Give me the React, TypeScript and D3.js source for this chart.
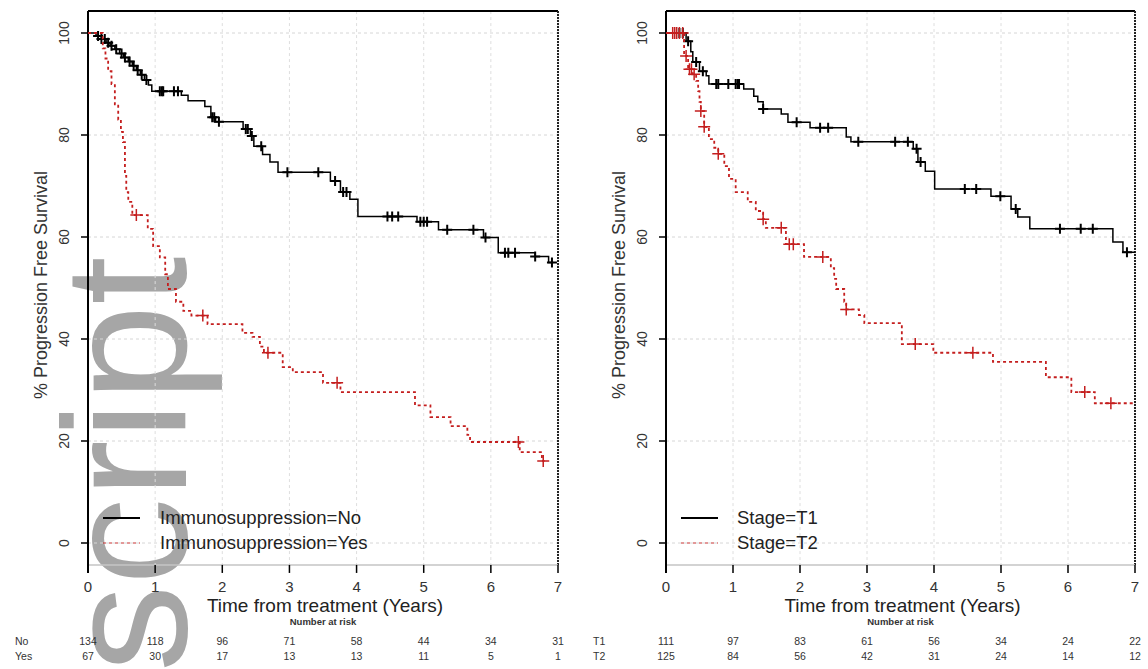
import React from "react";
import * as d3 from "d3";

// ---------- data ----------
const yearTicks = [0, 1, 2, 3, 4, 5, 6, 7];
const survTicks = [0, 20, 40, 60, 80, 100];

// Panel A: Immunosuppression = No (step times / survival after step, %)
const noTimes = [0.12, 0.2, 0.27, 0.33, 0.4, 0.47, 0.53, 0.6, 0.66, 0.72, 0.78, 0.84, 0.9, 0.95, 1.39, 1.49, 1.74, 1.83, 1.9, 2.31, 2.42, 2.47, 2.6, 2.71, 2.83, 3.61, 3.76, 3.9, 4.02, 4.9, 5.22, 5.89, 6.11, 6.66, 6.86];
const noSurv = [99.4, 98.8, 98.1, 97.5, 96.8, 96.0, 95.2, 94.4, 93.6, 92.7, 91.8, 90.8, 89.8, 88.6, 87.8, 86.7, 85.6, 83.5, 82.6, 81.2, 79.8, 77.8, 76.2, 74.7, 72.7, 71.0, 68.8, 67.4, 64.0, 63.0, 61.4, 59.9, 56.9, 56.2, 55.0];
const noCensor = [0.15, 0.2, 0.25, 0.3, 0.35, 0.42, 0.5, 0.55, 0.62, 0.68, 0.74, 0.8, 0.87, 1.07, 1.1, 1.12, 1.28, 1.34, 1.85, 1.88, 1.95, 2.35, 2.38, 2.44, 2.58, 2.97, 3.43, 3.68, 3.8, 3.85, 4.46, 4.53, 4.62, 4.95, 5.0, 5.05, 5.35, 5.74, 5.92, 6.21, 6.26, 6.36, 6.66, 6.91];
const noEnd = 6.93;

// Panel A: Immunosuppression = Yes
const yesTimes = [0.22, 0.26, 0.3, 0.35, 0.4, 0.45, 0.49, 0.52, 0.55, 0.57, 0.6, 0.66, 0.89, 0.97, 1.07, 1.15, 1.19, 1.31, 1.42, 1.54, 1.78, 2.3, 2.45, 2.56, 2.62, 2.9, 3.05, 3.5, 3.76, 4.87, 5.1, 5.4, 5.65, 5.69, 6.43, 6.76];
const yesSurv = [97, 95, 92.5, 90, 86, 83, 80.6, 78.6, 72, 68.8, 66.9, 64.3, 61.6, 58.2, 56, 52.7, 49.8, 47.3, 45.5, 44.6, 42.9, 41.2, 40.4, 38.5, 37.3, 34.5, 33.5, 31.4, 29.6, 27, 24.7, 22.9, 21.2, 19.8, 17.8, 16.1];
const yesCensor = [0.72, 1.71, 2.68, 3.71, 6.41, 6.78];
const yesEnd = 6.8;

// Panel B: Stage = T1
const t1Times = [0.3, 0.37, 0.4, 0.5, 0.6, 0.64, 1.16, 1.31, 1.37, 1.45, 1.72, 1.82, 2.15, 2.69, 2.76, 3.69, 3.76, 3.87, 4.01, 4.85, 5.15, 5.25, 5.43, 6.67, 6.82];
const t1Surv = [98.4, 96.3, 94.3, 92.5, 91.6, 90.0, 89.0, 87.6, 86.5, 85.1, 84.1, 82.5, 81.4, 79.6, 78.7, 77.3, 74.7, 72.9, 69.4, 68.0, 65.5, 63.9, 61.6, 59.0, 57.0];
const t1Censor = [0.2, 0.25, 0.33, 0.45, 0.55, 0.75, 0.78, 0.93, 1.04, 1.07, 1.09, 1.45, 1.95, 2.3, 2.42, 2.87, 3.42, 3.61, 3.74, 3.8, 4.46, 4.63, 4.99, 5.22, 5.88, 6.19, 6.37, 6.88];
const t1End = 7.0;

// Panel B: Stage = T2
const t2Times = [0.27, 0.33, 0.4, 0.45, 0.48, 0.5, 0.52, 0.57, 0.64, 0.72, 0.78, 0.87, 0.94, 1.04, 1.22, 1.34, 1.45, 1.49, 1.79, 2.06, 2.46, 2.51, 2.54, 2.66, 2.69, 2.88, 2.96, 3.52, 3.99, 4.88, 5.67, 6.05, 6.4];
const t2Surv = [95.5, 92.9, 91.9, 90.6, 88.6, 86.5, 84.7, 81.6, 79.2, 77.5, 76.3, 73.9, 71.4, 68.8, 66.9, 65.1, 63.5, 61.8, 58.6, 56.1, 53.9, 51.8, 49.8, 47.3, 45.8, 44.7, 43.1, 39.0, 37.3, 35.5, 32.5, 29.6, 27.4];
const t2Censor = [0.1, 0.13, 0.16, 0.2, 0.25, 0.3, 0.35, 0.38, 0.42, 0.52, 0.57, 0.78, 1.45, 1.72, 1.84, 1.9, 2.34, 2.69, 3.72, 4.58, 6.25, 6.64];
const t2End = 7.0;

// Numbers at risk
const riskNo = [134, 118, 96, 71, 58, 44, 34, 31];
const riskYes = [67, 30, 17, 13, 13, 11, 5, 1];
const riskT1 = [111, 97, 83, 61, 56, 34, 24, 22];
const riskT2 = [125, 84, 56, 42, 31, 24, 14, 12];

const FONT = "'Liberation Sans', Arial, Helvetica, sans-serif";
const RED = "#c41e1e";

type Curve = { times: number[]; surv: number[]; censor: number[]; end: number; color: string; dashed: boolean };

function survAt(times: number[], surv: number[], t: number) {
  let s = 100;
  for (let i = 0; i < times.length; i++) if (times[i] <= t) s = surv[i];
  return s;
}

function Panel({ x0, x1, curves, legend, rows, rowLabels, labelX }: any) {
  const x = d3.scaleLinear().domain([0, 7]).range([x0, x1]);
  const y = d3.scaleLinear().domain([0, 100]).range([543, 33]);
  const top = y(104.3);
  const bottom = y(-4.3);
  const line = d3.line<[number, number]>().x(d => x(d[0])).y(d => y(d[1])).curve(d3.curveStepAfter);
  const mid = (x0 + x1) / 2;
  return (
    <g>
      {/* grid */}
      {yearTicks.map(t => (
        <line key={"gv" + t} x1={x(t)} x2={x(t)} y1={top} y2={bottom} stroke="#dedede" strokeWidth={1} strokeDasharray="3,3" />
      ))}
      {survTicks.map(s => (
        <line key={"gh" + s} x1={x0} x2={x1} y1={y(s)} y2={y(s)} stroke="#d6d6d6" strokeWidth={1} strokeDasharray="3,3" />
      ))}
      {/* box */}
      <line x1={x0} x2={x1} y1={top} y2={top} stroke="#000" strokeWidth={2} />
      <line x1={x1} x2={x1} y1={top} y2={bottom} stroke="#222" strokeWidth={2} strokeDasharray="2,1" />
      <line x1={x0} x2={x1} y1={bottom} y2={bottom} stroke="#c4c4c4" strokeWidth={1.5} />
      <line x1={x0} x2={x0} y1={top} y2={bottom + 8} stroke="#000" strokeWidth={2} />
      {/* y ticks */}
      {survTicks.map(s => (
        <g key={"yt" + s}>
          <line x1={x0 - 7} x2={x0} y1={y(s)} y2={y(s)} stroke="#000" strokeWidth={1.5} />
          <text transform={`translate(${x0 - 19},${y(s)}) rotate(-90)`} textAnchor="middle" fontSize={14} fontFamily={FONT} fill="#333">{s}</text>
        </g>
      ))}
      {/* x ticks */}
      {yearTicks.map(t => (
        <g key={"xt" + t}>
          <line x1={x(t)} x2={x(t)} y1={bottom} y2={bottom + 8} stroke="#000" strokeWidth={1.5} />
          <text x={x(t)} y={bottom + 27} textAnchor="middle" fontSize={15} fontFamily={FONT} fill="#333">{t}</text>
        </g>
      ))}
      <text transform={`translate(${x0 - 41},285) rotate(-90)`} textAnchor="middle" fontSize={18} fontFamily={FONT} fill="#333">% Progression Free Survival</text>
      <text x={mid + 2} y={612} textAnchor="middle" fontSize={19} fontFamily={FONT} fill="#222">Time from treatment (Years)</text>
      {/* curves */}
      {curves.map((c: Curve, i: number) => {
        const pts: [number, number][] = [[0, 100], ...c.times.map((t, k) => [t, c.surv[k]] as [number, number]), [c.end, c.surv[c.surv.length - 1]]];
        return (
          <g key={"c" + i}>
            <path d={line(pts) || ""} fill="none" stroke={c.color} strokeWidth={c.dashed ? 1.8 : 1.5} strokeDasharray={c.dashed ? "3,3" : undefined} />
            {c.censor.map((t, k) => {
              const cx = x(t);
              const cy = y(survAt(c.times, c.surv, t));
              const h = c.dashed ? 6 : 5;
              return (
                <path key={k} d={`M${cx - h},${cy}H${cx + h}M${cx},${cy - h}V${cy + h}`} stroke={c.color} strokeWidth={c.dashed ? 1.5 : 2} fill="none" />
              );
            })}
          </g>
        );
      })}
      {/* legend */}
      {legend.map((l: string, i: number) => (
        <g key={"lg" + i}>
          <line x1={x0 + 15} x2={x0 + 52} y1={518 + i * 25} y2={518 + i * 25} stroke={i === 0 ? "#000" : RED} strokeWidth={i === 0 ? 2 : 1.5} strokeDasharray={i === 0 ? undefined : "3,3"} opacity={i === 0 ? 1 : 0.6} />
          <text x={labelX} y={524 + i * 25} fontSize={18.5} fontFamily={FONT} fill="#222">{l}</text>
        </g>
      ))}
      {/* number at risk */}
      <text x={mid} y={625} textAnchor="middle" fontSize={9.5} fontWeight="bold" fontFamily={FONT} fill="#333">Number at risk</text>
      {rows.map((r: number[], ri: number) => (
        <g key={"r" + ri}>
          <text x={x0 - 73} y={645 + ri * 15} fontSize={10.5} fontFamily={FONT} fill="#333">{rowLabels[ri]}</text>
          {r.map((v, k) => (
            <text key={k} x={x(yearTicks[k])} y={645 + ri * 15} textAnchor="middle" fontSize={10.5} fontFamily={FONT} fill="#333">{v}</text>
          ))}
        </g>
      ))}
    </g>
  );
}

export default function App() {
  const curvesA: Curve[] = [
    { times: noTimes, surv: noSurv, censor: noCensor, end: noEnd, color: "#000", dashed: false },
    { times: yesTimes, surv: yesSurv, censor: yesCensor, end: yesEnd, color: RED, dashed: true },
  ];
  const curvesB: Curve[] = [
    { times: t1Times, surv: t1Surv, censor: t1Censor, end: t1End, color: "#000", dashed: false },
    { times: t2Times, surv: t2Surv, censor: t2Censor, end: t2End, color: RED, dashed: true },
  ];
  return (
    <svg width={1148} height={669} style={{ position: "absolute", left: 0, top: 0, background: "#fff" }}>
      <rect width={1148} height={669} fill="#fff" />
      <text transform="translate(186,672) rotate(-90)" fontSize={174} fontFamily={FONT} fill="#a6a6a6">script</text>
      <Panel x0={88} x1={558} curves={curvesA} legend={["Immunosuppression=No", "Immunosuppression=Yes"]} rows={[riskNo, riskYes]} rowLabels={["No", "Yes"]} labelX={160} />
      <Panel x0={666} x1={1135} curves={curvesB} legend={["Stage=T1", "Stage=T2"]} rows={[riskT1, riskT2]} rowLabels={["T1", "T2"]} labelX={737} />
    </svg>
  );
}
